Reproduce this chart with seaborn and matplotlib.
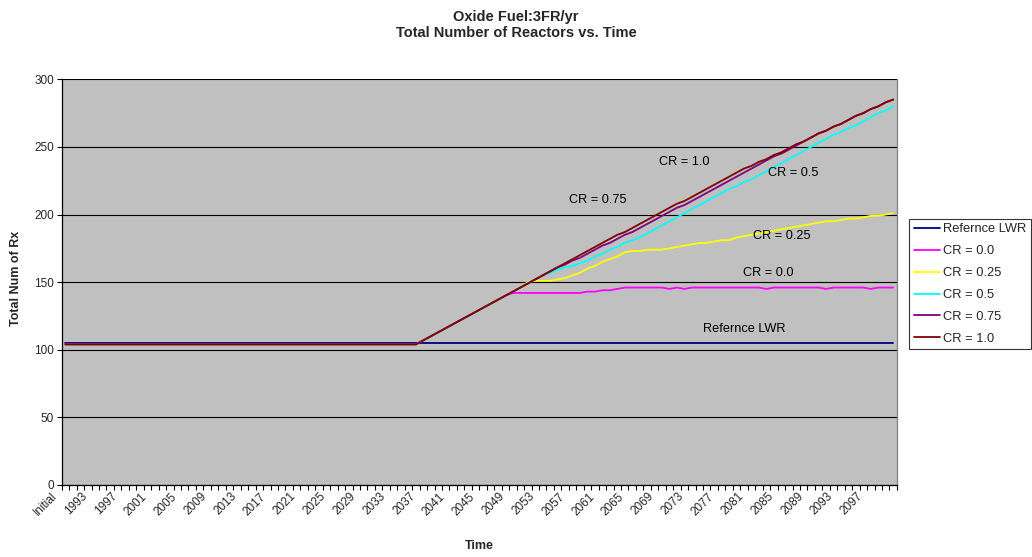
import matplotlib
matplotlib.use("Agg")
import matplotlib.pyplot as plt
from matplotlib.transforms import ScaledTranslation
import pandas as pd
import seaborn as sns

# Category axis: an initial state followed by one entry per year
categories = ["Initial"] + [str(y) for y in range(1990, 2101)]

# Values shared by every CR case before and during the first years of fast-reactor build-up
before_rise = [104, 104, 104, 104, 104, 104, 104, 104, 104, 104, 104, 104, 104, 104, 104, 104,
               104, 104, 104, 104, 104, 104, 104, 104, 104, 104, 104, 104, 104, 104, 104, 104,
               104, 104, 104, 104, 104, 104, 104, 104, 104, 104, 104, 104, 104, 104, 104, 104]
early_rise = [107, 110, 113, 116, 119, 122, 125, 128, 131, 134, 137]

reference_lwr = [105, 105, 105, 105, 105, 105, 105, 105, 105, 105, 105, 105, 105, 105, 105, 105,
                 105, 105, 105, 105, 105, 105, 105, 105, 105, 105, 105, 105, 105, 105, 105, 105,
                 105, 105, 105, 105, 105, 105, 105, 105, 105, 105, 105, 105, 105, 105, 105, 105,
                 105, 105, 105, 105, 105, 105, 105, 105, 105, 105, 105, 105, 105, 105, 105, 105,
                 105, 105, 105, 105, 105, 105, 105, 105, 105, 105, 105, 105, 105, 105, 105, 105,
                 105, 105, 105, 105, 105, 105, 105, 105, 105, 105, 105, 105, 105, 105, 105, 105,
                 105, 105, 105, 105, 105, 105, 105, 105, 105, 105, 105, 105, 105, 105, 105, 105]

cr_00 = before_rise + early_rise + [
    140, 142, 142, 142, 142, 142, 142, 142, 142, 142, 142, 143, 143, 144, 144, 145,
    146, 146, 146, 146, 146, 146, 145, 146, 145, 146, 146, 146, 146, 146, 146, 146,
    146, 146, 146, 145, 146, 146, 146, 146, 146, 146, 146, 145, 146, 146, 146, 146,
    146, 145, 146, 146, 146]

cr_025 = before_rise + early_rise + [
    140, 143, 146, 150, 151, 151, 151, 152, 153, 155, 157, 160, 162, 165, 167, 169,
    172, 173, 173, 174, 174, 174, 175, 176, 177, 178, 179, 179, 180, 181, 181, 183,
    184, 185, 186, 187, 188, 189, 190, 191, 192, 193, 194, 195, 195, 196, 197, 197,
    198, 199, 199, 200, 201]

cr_05 = before_rise + early_rise + [
    140, 143, 146, 149, 152, 155, 157, 159, 161, 162, 164, 166, 169, 171, 174, 176,
    179, 181, 183, 186, 189, 192, 195, 198, 201, 204, 207, 210, 213, 216, 219, 221,
    224, 226, 229, 232, 235, 238, 241, 244, 247, 250, 253, 256, 259, 261, 264, 266,
    269, 272, 275, 277, 280]

cr_075 = before_rise + early_rise + [
    140, 143, 146, 149, 152, 155, 158, 161, 163, 166, 168, 171, 174, 177, 179, 182,
    185, 187, 190, 193, 196, 199, 202, 205, 207, 210, 213, 216, 219, 222, 225, 228,
    231, 234, 237, 240, 243, 245, 248, 251, 254, 257, 260, 262, 265, 267, 270, 273,
    275, 278, 280, 283, 285]

cr_10 = before_rise + early_rise + [
    140, 143, 146, 149, 152, 155, 158, 161, 164, 167, 170, 173, 176, 179, 182, 185,
    187, 190, 193, 196, 199, 202, 205, 208, 210, 213, 216, 219, 222, 225, 228, 231,
    234, 236, 239, 241, 244, 246, 249, 252, 254, 257, 260, 262, 265, 267, 270, 273,
    275, 278, 280, 283, 285]

series_names = ["Refernce LWR", "CR = 0.0", "CR = 0.25", "CR = 0.5", "CR = 0.75", "CR = 1.0"]
series_values = [reference_lwr, cr_00, cr_025, cr_05, cr_075, cr_10]
series_colors = ["#000080", "#FF00FF", "#FFFF00", "#00FFFF", "#800080", "#800000"]

# In-plot labels: (text, category position, value)
annotations = [
    ("CR = 1.0", 83.0, 239),
    ("CR = 0.5", 97.6, 231),
    ("CR = 0.75", 71.4, 211),
    ("CR = 0.25", 96.1, 184),
    ("CR = 0.0", 94.3, 157),
    ("Refernce LWR", 91.0, 115),
]

frames = []
for name, vals in zip(series_names, series_values):
    frames.append(pd.DataFrame({"pos": range(len(categories)), "value": vals, "series": name}))
df = pd.concat(frames, ignore_index=True)

sns.set_theme(style="white")
plt.rcParams["font.family"] = ["Liberation Sans", "DejaVu Sans"]

fig = plt.figure(figsize=(10.32, 5.57), dpi=100)
ax = fig.add_axes([0.0598, 0.1293, 0.8093, 0.7283])
ax.set_facecolor("#C0C0C0")

sns.lineplot(data=df, x="pos", y="value", hue="series", hue_order=series_names,
             palette=dict(zip(series_names, series_colors)), estimator=None,
             linewidth=1.3, ax=ax, legend=True)

ax.set_xlim(-0.5, len(categories) - 0.5)
ax.set_ylim(0, 300)
ax.set_yticks(range(0, 301, 50))
ax.yaxis.grid(True, color="black", linewidth=0.8)
ax.set_axisbelow(True)

major = list(range(0, len(categories), 4))
ax.set_xticks(major)
ax.set_xticklabels([categories[i] for i in major], rotation=45, ha="right", va="top",
                   fontsize=8.5)
ax.set_xticks([i - 0.5 for i in range(len(categories) + 1)], minor=True)
ax.tick_params(axis="x", which="major", length=0, pad=4)
ax.tick_params(axis="x", which="minor", length=3.5, width=0.8, color="black", direction="out",
               bottom=True)
ax.tick_params(axis="y", length=3.5, width=0.8, color="black", direction="out", left=True,
               labelsize=8.5, pad=2)
shift = ScaledTranslation(-4 / 72, 0, fig.dpi_scale_trans)
for lbl in ax.get_xticklabels():
    lbl.set_transform(lbl.get_transform() + shift)

for side in ["left", "bottom"]:
    ax.spines[side].set_color("black")
    ax.spines[side].set_linewidth(0.9)
ax.spines["top"].set_visible(False)
ax.spines["right"].set_color("#808080")
ax.spines["right"].set_linewidth(0.9)

ax.set_xlabel("")
ax.set_ylabel("")

for text, xpos, ypos in annotations:
    ax.text(xpos, ypos, text, ha="center", va="center", fontsize=9.2, color="black")

handles, labels = ax.get_legend_handles_labels()
ax.get_legend().remove()
for h in handles:
    h.set_linewidth(1.3)
leg = fig.legend(handles, labels, loc="upper left", bbox_to_anchor=(0.881, 0.607),
                 frameon=True, fancybox=False, edgecolor="black", facecolor="white",
                 fontsize=9.3, handlelength=2.0, handletextpad=0.25, labelspacing=0.76,
                 borderpad=0.35, borderaxespad=0)
leg.get_frame().set_linewidth(0.8)

fig.text(0.5, 1 - 17 / 557, "Oxide Fuel:3FR/yr", ha="center", va="center",
         fontsize=10.5, fontweight="bold")
fig.text(0.5, 1 - 33 / 557, "Total Number of Reactors vs. Time", ha="center", va="center",
         fontsize=10.5, fontweight="bold")
fig.text(0.0598 + 0.8093 / 2, 1 - 546 / 557, "Time", ha="center", va="center",
         fontsize=9, fontweight="bold")
fig.text(16 / 1032, 1 - 278 / 557, "Total Num of Rx", ha="center", va="center",
         rotation=90, fontsize=9, fontweight="bold")

fig.savefig("out.png", dpi=100)
